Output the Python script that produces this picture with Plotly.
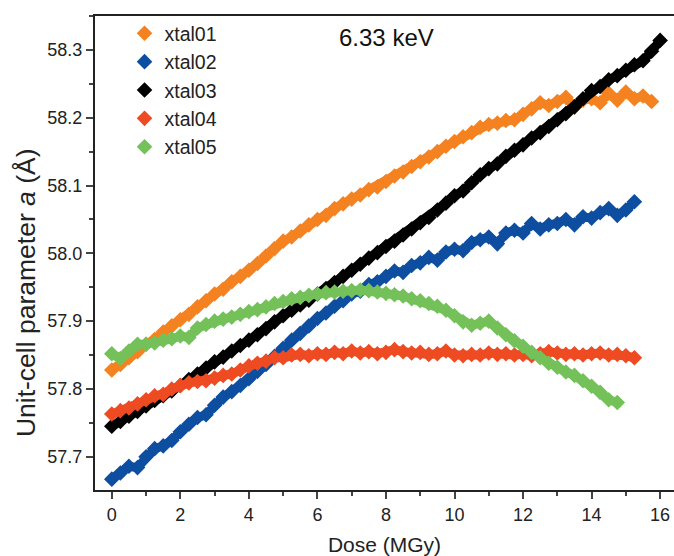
import plotly.graph_objects as go

# dose grid (MGy), every 0.25
dose = [0.0, 0.25, 0.5, 0.75, 1.0, 1.25, 1.5, 1.75, 2.0, 2.25, 2.5, 2.75, 3.0, 3.25, 3.5, 3.75,
        4.0, 4.25, 4.5, 4.75, 5.0, 5.25, 5.5, 5.75, 6.0, 6.25, 6.5, 6.75, 7.0, 7.25, 7.5, 7.75,
        8.0, 8.25, 8.5, 8.75, 9.0, 9.25, 9.5, 9.75, 10.0, 10.25, 10.5, 10.75, 11.0, 11.25, 11.5, 11.75,
        12.0, 12.25, 12.5, 12.75, 13.0, 13.25, 13.5, 13.75, 14.0, 14.25, 14.5, 14.75, 15.0, 15.25, 15.5, 15.75,
        16.0]

xtal01 = [57.828, 57.836, 57.846, 57.855, 57.866, 57.873, 57.884, 57.893, 57.902, 57.910, 57.921, 57.930,
          57.940, 57.947, 57.958, 57.966, 57.975, 57.985, 57.996, 58.007, 58.018, 58.024, 58.033, 58.042,
          58.050, 58.056, 58.066, 58.073, 58.080, 58.086, 58.094, 58.098, 58.106, 58.114, 58.120, 58.128,
          58.135, 58.142, 58.150, 58.158, 58.165, 58.172, 58.178, 58.186, 58.190, 58.192, 58.196, 58.197,
          58.205, 58.213, 58.222, 58.218, 58.224, 58.230, 58.216, 58.226, 58.228, 58.222, 58.236, 58.226,
          58.238, 58.228, 58.232, 58.224]

xtal02 = [57.667, 57.676, 57.686, 57.684, 57.700, 57.712, 57.716, 57.724, 57.737, 57.748, 57.758, 57.762,
          57.776, 57.788, 57.796, 57.805, 57.815, 57.826, 57.836, 57.848, 57.860, 57.872, 57.882, 57.893,
          57.904, 57.912, 57.922, 57.930, 57.940, 57.944, 57.954, 57.958, 57.966, 57.974, 57.972, 57.982,
          57.986, 57.994, 57.990, 58.002, 58.006, 58.004, 58.016, 58.020, 58.024, 58.014, 58.030, 58.034,
          58.030, 58.044, 58.036, 58.042, 58.044, 58.050, 58.042, 58.054, 58.052, 58.060, 58.066, 58.056,
          58.064, 58.076]

xtal03 = [57.745, 57.752, 57.760, 57.767, 57.775, 57.783, 57.790, 57.797, 57.805, 57.814, 57.822, 57.831,
          57.840, 57.847, 57.856, 57.864, 57.872, 57.880, 57.889, 57.899, 57.908, 57.916, 57.924, 57.931,
          57.940, 57.948, 57.957, 57.966, 57.975, 57.984, 57.993, 58.001, 58.010, 58.018, 58.027, 58.036,
          58.045, 58.053, 58.064, 58.074, 58.085, 58.092, 58.104, 58.116, 58.125, 58.132, 58.143, 58.152,
          58.160, 58.170, 58.178, 58.187, 58.197, 58.206, 58.216, 58.228, 58.240, 58.246, 58.256, 58.262,
          58.270, 58.278, 58.284, 58.298, 58.314]

xtal04 = [57.763, 57.768, 57.772, 57.778, 57.784, 57.790, 57.792, 57.800, 57.805, 57.809, 57.811, 57.812,
          57.816, 57.820, 57.822, 57.828, 57.834, 57.838, 57.841, 57.846, 57.846, 57.850, 57.851, 57.849,
          57.852, 57.851, 57.854, 57.852, 57.856, 57.853, 57.855, 57.852, 57.854, 57.858, 57.855, 57.853,
          57.854, 57.851, 57.852, 57.856, 57.850, 57.849, 57.851, 57.850, 57.853, 57.851, 57.852, 57.850,
          57.851, 57.849, 57.852, 57.855, 57.853, 57.851, 57.852, 57.850, 57.852, 57.853, 57.850, 57.851,
          57.849, 57.846]

xtal05 = [57.852, 57.845, 57.856, 57.866, 57.866, 57.868, 57.872, 57.874, 57.878, 57.876, 57.890, 57.895,
          57.900, 57.903, 57.906, 57.910, 57.914, 57.917, 57.921, 57.926, 57.929, 57.933, 57.935, 57.938,
          57.940, 57.942, 57.943, 57.944, 57.945, 57.946, 57.945, 57.943, 57.941, 57.939, 57.937, 57.933,
          57.930, 57.926, 57.922, 57.916, 57.908, 57.899, 57.894, 57.897, 57.900, 57.890, 57.880, 57.871,
          57.863, 57.854, 57.846, 57.838, 57.832, 57.825, 57.820, 57.812, 57.804, 57.795, 57.784, 57.780]

names = ["xtal01", "xtal02", "xtal03", "xtal04", "xtal05"]
colors = ["#F58220", "#0D4EA1", "#000000", "#EE4B23", "#74C15A"]
series = [xtal01, xtal02, xtal03, xtal04, xtal05]

FONT = "Liberation Sans, Arial, sans-serif"

fig = go.Figure()
for name, col, vals in zip(names, colors, series):
    # thick line underneath so the overlapping diamonds read as one band
    fig.add_trace(go.Scatter(x=dose[:len(vals)], y=vals, mode="lines", showlegend=False,
                             line=dict(color=col, width=9), hoverinfo="skip"))
    fig.add_trace(go.Scatter(x=dose[:len(vals)], y=vals, mode="markers", name=name,
                             marker=dict(symbol="diamond", size=12, color=col, line_width=0)))

fig.update_layout(
    width=674, height=556,
    margin=dict(l=95, r=0, t=16, b=66),
    plot_bgcolor="white", paper_bgcolor="white",
    font=dict(family=FONT, size=18, color="#222"),
    showlegend=True,
    legend=dict(x=0.051, y=1.004, xanchor="left", yanchor="top", font=dict(size=19.5),
                bgcolor="rgba(0,0,0,0)", tracegroupgap=0, itemwidth=30),
)

fig.update_xaxes(range=[-0.49, 16.405], dtick=2, tick0=0, ticks="outside", ticklen=7, tickwidth=1.5,
                 showline=True, linewidth=2, linecolor="#222", mirror=True, showgrid=False, zeroline=False,
                 automargin=False,
                 minor=dict(dtick=1, ticks="outside", ticklen=4, tickwidth=1.5, showgrid=False),
                 title=dict(text="Dose (MGy)", font=dict(size=21), standoff=14))
fig.update_yaxes(range=[57.651, 58.35], dtick=0.1, tick0=57.7, tickformat=".1f", ticks="outside", ticklen=7,
                 tickwidth=1.5, showline=True, linewidth=2, linecolor="#222", showgrid=False, zeroline=False,
                 automargin=False,
                 minor=dict(dtick=0.05, ticks="outside", ticklen=4, tickwidth=1.5, showgrid=False))

# y title sits lower than the axis middle in the original, so place it as an annotation
fig.add_annotation(text="Unit-cell parameter <i>a</i> (Å)", xref="paper", yref="paper",
                   x=-0.119, y=0.4156, xanchor="center", yanchor="middle", textangle=-90,
                   showarrow=False, font=dict(size=26.5, color="#222"))

fig.add_annotation(text="6.33 keV", xref="paper", yref="paper", x=0.418, y=0.954,
                   xanchor="left", yanchor="middle", showarrow=False, font=dict(size=24, color="#111"))

# drop the default page margin/scrollbars so the 674x556 figure fills the window
fig.write_html("out.html", config={"displayModeBar": False},
               post_script="document.body.style.margin='0';document.body.style.overflow='hidden';")
